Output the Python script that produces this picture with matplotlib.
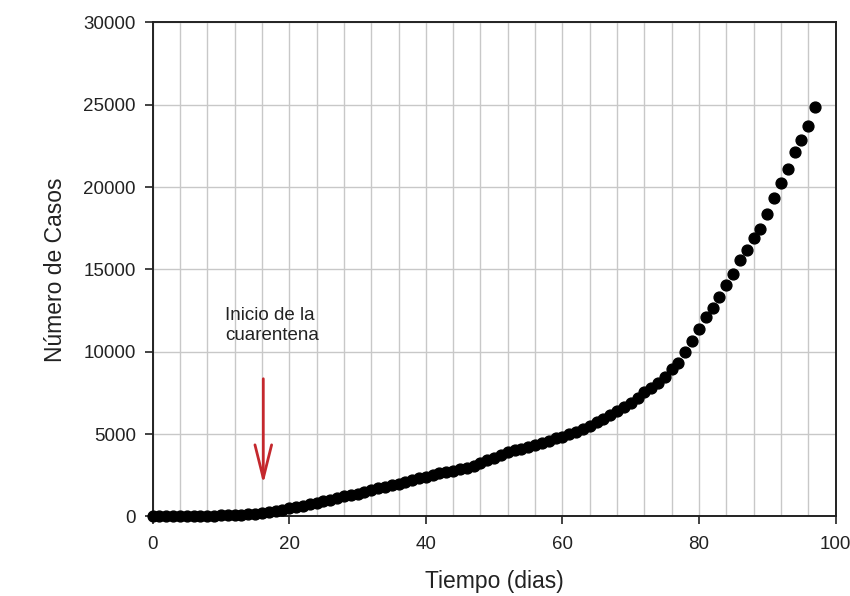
import numpy as np
import matplotlib
matplotlib.use("Agg")
from matplotlib import pyplot as plt
from matplotlib.ticker import MultipleLocator

# cumulative cases per day since the first case
dias = list(range(0, 98))
casos = [0, 10, 15, 20, 25, 30, 35, 45, 50, 60,
         70, 85, 100, 120, 150, 180, 220, 270, 330, 410,
         500, 580, 660, 740, 830, 930, 1030, 1140, 1250, 1320,
         1390, 1490, 1600, 1700, 1800, 1900, 2000, 2110, 2220, 2330,
         2420, 2520, 2610, 2700, 2790, 2880, 2970, 3080, 3230, 3400,
         3580, 3760, 3900, 4010, 4120, 4230, 4340, 4470, 4600, 4750,
         4850, 5010, 5150, 5310, 5510, 5740, 5940, 6140, 6410, 6670,
         6910, 7210, 7540, 7820, 8090, 8470, 8940, 9300, 9970, 10670,
         11380, 12090, 12660, 13310, 14040, 14740, 15540, 16200, 16910, 17460,
         18390, 19340, 20270, 21100, 22110, 22860, 23690, 24845]

x_ticks = [0, 20, 40, 60, 80, 100]
y_ticks = [0, 5000, 10000, 15000, 20000, 25000, 30000]

# quarantine start marker
dia_cuarentena = 16.2
flecha_desde = 8530
flecha_hasta = 1810

plt.rcParams['font.family'] = ['Liberation Sans', 'DejaVu Sans']

fig = plt.figure(figsize=(8.5, 5.96), dpi=100)
ax = fig.add_axes([0.1796, 0.1334, 0.8034, 0.8292])

ax.plot(dias, casos, linestyle="none", marker="o", markersize=7.8,
        color="black", clip_on=False, zorder=3)

ax.set_xlim(0, 100)
ax.set_ylim(0, 30000)
ax.set_xticks(x_ticks)
ax.set_yticks(y_ticks)
ax.xaxis.set_minor_locator(MultipleLocator(4))

ax.grid(True, which="minor", axis="x", color="#c8c8c8", linewidth=1.0)
ax.grid(True, which="major", axis="x", color="#c8c8c8", linewidth=1.0)
ax.grid(True, which="major", axis="y", color="#c8c8c8", linewidth=1.0)
ax.set_axisbelow(True)

ax.tick_params(which="major", direction="out", length=6, width=1.2,
               labelsize=13.5, colors="#222222")
ax.tick_params(axis="x", which="major", pad=8)
ax.tick_params(axis="y", which="major", pad=6)
ax.tick_params(which="minor", length=0)

for s in ax.spines.values():
    s.set_linewidth(1.4)
    s.set_color("#222222")

ax.set_xlabel("Tiempo (dias)", fontsize=16.5, color="#222222", labelpad=12)
ax.set_ylabel("Número de Casos", fontsize=16.5, color="#222222", labelpad=12)

ax.annotate("", xy=(dia_cuarentena, flecha_hasta),
            xytext=(dia_cuarentena, flecha_desde),
            arrowprops=dict(arrowstyle="->,head_length=2.4,head_width=0.6",
                            color="#c4282d", linewidth=2.0))
ax.text(10.6, 11600, "Inicio de la\ncuarentena", fontsize=13.5,
        color="#222222", ha="left", va="center", linespacing=1.2)

plt.savefig("out.png", dpi=100)
